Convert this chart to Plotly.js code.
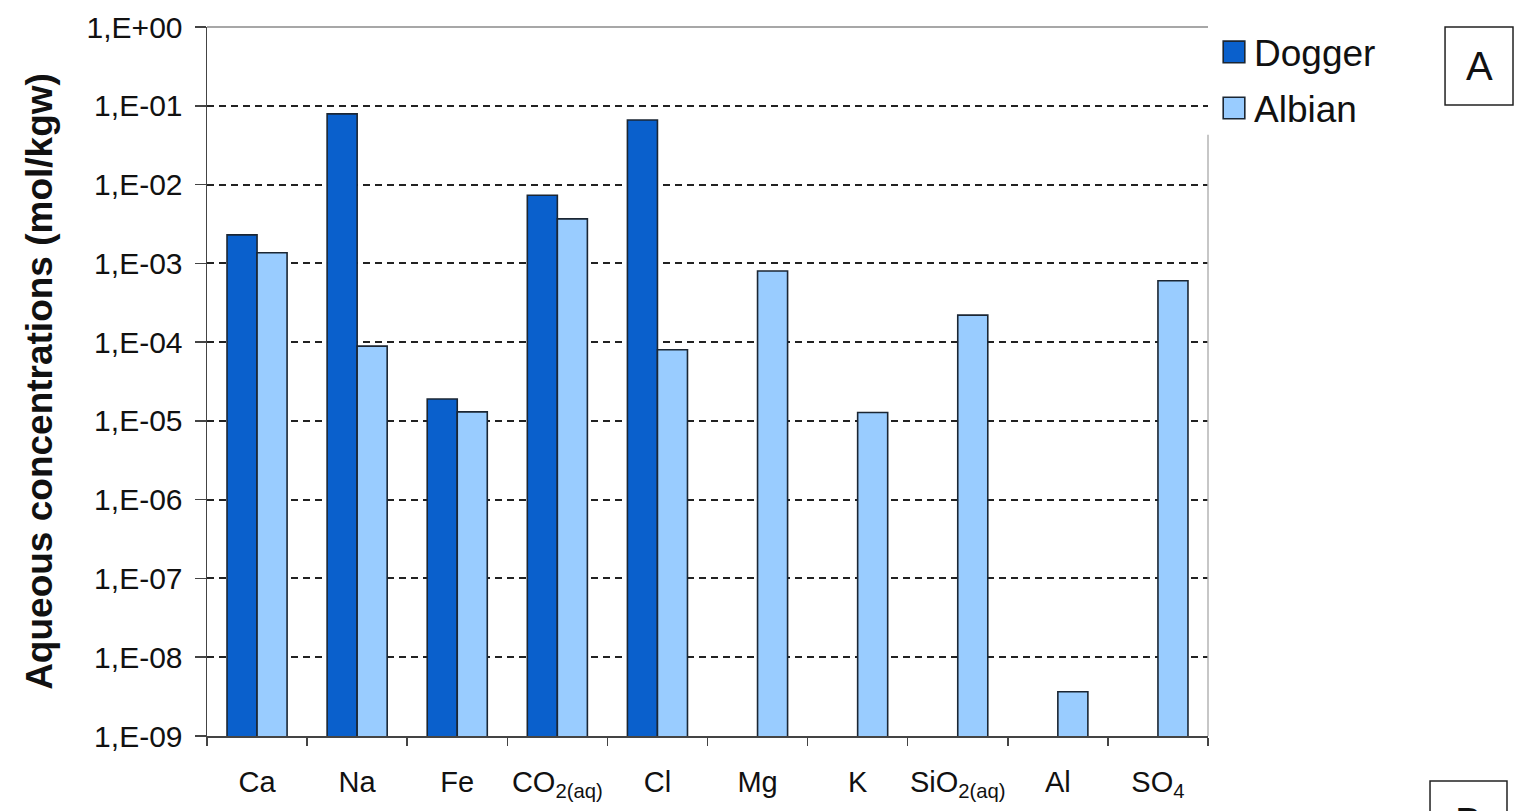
<!DOCTYPE html>
<html>
<head>
<meta charset="utf-8">
<script src="https://cdn.plot.ly/plotly-3.0.1.min.js"></script>
<style>
  html, body { margin: 0; padding: 0; background: #fff; }
  #chart { width: 1517px; height: 811px; }
</style>
</head>
<body>
<div id="chart"></div>
<script>
// ---- data ----
const categories = ["Ca", "Na", "Fe", "CO<sub>2(aq)</sub>", "Cl", "Mg", "K", "SiO<sub>2(aq)</sub>", "Al", "SO<sub>4</sub>"];
const dogger = [2.3e-3, 7.9e-2, 1.9e-5, 7.3e-3, 6.6e-2, null, null, null, null, null];
const albian = [1.36e-3, 8.9e-5, 1.3e-5, 3.67e-3, 8.0e-5, 8.0e-4, 1.28e-5, 2.2e-4, 3.64e-9, 6.0e-4];
const yTickVals = [1e0, 1e-1, 1e-2, 1e-3, 1e-4, 1e-5, 1e-6, 1e-7, 1e-8, 1e-9];
const yTickText = ["1,E+00", "1,E-01", "1,E-02", "1,E-03", "1,E-04", "1,E-05", "1,E-06", "1,E-07", "1,E-08", "1,E-09"];

const FONT = "Liberation Sans, Arial, sans-serif";

const traces = [
  {
    type: "bar", name: "Dogger", x: categories, y: dogger, legendgroup: "d",
    marker: { color: "#0A60CC", line: { color: "#1b2633", width: 1.6 } },
    hoverinfo: "x+y+name"
  },
  {
    type: "bar", name: "Albian", x: categories, y: albian, legendgroup: "a",
    marker: { color: "#99CCFF", line: { color: "#1b2633", width: 1.6 } },
    hoverinfo: "x+y+name"
  }
];

const layout = {
  width: 1517, height: 811,
  margin: { l: 207, r: 309, t: 27, b: 75, pad: 0 },
  paper_bgcolor: "#fff", plot_bgcolor: "#fff",
  font: { family: FONT, color: "#111" },
  barmode: "group", bargap: 0.4, bargroupgap: 0,
  showlegend: true,
  legend: {
    x: 1.006, xanchor: "left", y: 1.008, yanchor: "top",
    bgcolor: "rgba(255,255,255,1)", borderwidth: 0,
    font: { family: FONT, size: 37, color: "#111" },
    tracegroupgap: 5, itemwidth: 30
  },
  xaxis: {
    type: "category",
    tickson: "boundaries",
    tickangle: 0,
    ticks: "outside", ticklen: 8, tickwidth: 1.5, tickcolor: "#444",
    showline: true, linecolor: "#444", linewidth: 1.5,
    showgrid: false, zeroline: false,
    tickfont: { family: FONT, size: 29, color: "#111" },
    ticklabelstandoff: 20,
    fixedrange: true
  },
  yaxis: {
    type: "log", range: [-9, 0],
    tickvals: yTickVals, ticktext: yTickText,
    ticks: "outside", ticklen: 11, tickwidth: 1.5, tickcolor: "#444",
    showline: true, linecolor: "#444", linewidth: 1.5,
    showgrid: true, gridcolor: "#222", gridwidth: 2, griddash: "7px,5px",
    zeroline: false,
    tickfont: { family: FONT, size: 30, color: "#111" },
    ticklabelstandoff: 6,
    title: {
      text: "<b>Aqueous concentrations (mol/kgw)</b>",
      font: { family: FONT, size: 37, color: "#111" },
      standoff: 22
    },
    fixedrange: true
  },
  shapes: [
    // top border (solid, gray)
    { type: "line", xref: "paper", yref: "paper", x0: 0, x1: 1, y0: 1, y1: 1,
      line: { color: "#8a8a8a", width: 1.5 } },
    // right border (light gray)
    { type: "line", xref: "paper", yref: "paper", x0: 1, x1: 1, y0: 0, y1: 0.848,
      line: { color: "#b5b5b5", width: 1.5 } },
    // panel label box A
    { type: "rect", xref: "paper", yref: "paper", x0: 1.2368, x1: 1.3047, y0: 0.890, y1: 1.0,
      line: { color: "#222", width: 1.5 }, fillcolor: "rgba(0,0,0,0)" },
    // panel label box B (cut by the page edge)
    { type: "rect", xref: "paper", yref: "paper", x0: 1.2218, x1: 1.2987, y0: -0.20, y1: -0.0635,
      line: { color: "#222", width: 1.5 }, fillcolor: "rgba(0,0,0,0)" }
  ],
  annotations: [
    { xref: "paper", yref: "paper", x: 1.2708, y: 0.945, text: "A", showarrow: false,
      xanchor: "center", yanchor: "middle", font: { family: FONT, size: 40, color: "#111" } },
    { xref: "paper", yref: "paper", x: 1.2603, y: -0.088, text: "B", showarrow: false,
      xanchor: "center", yanchor: "top", font: { family: FONT, size: 40, color: "#111" } }
  ]
};

Plotly.newPlot("chart", traces, layout, { displayModeBar: false, staticPlot: true }).then(function (gd) {
  // enlarge the legend swatches to the reference size (keep existing translate)
  gd.querySelectorAll(".legendpoints path").forEach(function (p) {
    const t = p.getAttribute("transform") || "";
    p.setAttribute("transform", t + " scale(1.8)");
    p.style.vectorEffect = "non-scaling-stroke";
  });
});
</script>
</body>
</html>
